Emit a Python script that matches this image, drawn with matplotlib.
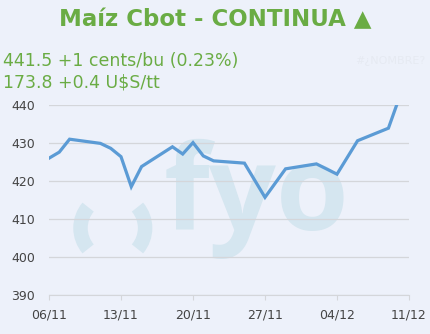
import matplotlib
matplotlib.use("Agg")
import matplotlib.pyplot as plt
from matplotlib.patches import Arc
import numpy as np

# data
dates = ["2019-11-06", "2019-11-07", "2019-11-08", "2019-11-11", "2019-11-12",
         "2019-11-13", "2019-11-14", "2019-11-15", "2019-11-18", "2019-11-19",
         "2019-11-20", "2019-11-21", "2019-11-22", "2019-11-25", "2019-11-27",
         "2019-11-29", "2019-12-02", "2019-12-04", "2019-12-06", "2019-12-09",
         "2019-12-10"]
prices = [426.0, 427.6, 431.0, 429.9, 428.6,
          426.4, 418.5, 423.8, 429.0, 427.1,
          430.1, 426.6, 425.3, 424.7, 415.7,
          423.2, 424.5, 421.8, 430.6, 433.9,
          441.5]
tick_dates = ["2019-11-06", "2019-11-13", "2019-11-20", "2019-11-27", "2019-12-04", "2019-12-11"]
tick_labels = ["06/11", "13/11", "20/11", "27/11", "04/12", "11/12"]
yticks = [390, 400, 410, 420, 430, 440]

title = "Maíz Cbot - CONTINUA ▲"
line1 = "441.5 +1 cents/bu (0.23%)"
line2 = "173.8 +0.4 U$S/tt"

bg = "#edf1fa"
green = "#6aac44"
wm = "#d5e6f0"
W, H = 431, 334

x = np.array(dates, dtype="datetime64[D]").astype("O")
xt = np.array(tick_dates, dtype="datetime64[D]").astype("O")

fig = plt.figure(figsize=(W/100, H/100), dpi=100)
fig.patch.set_facecolor(bg)
ax = fig.add_axes([49/W, 1-295/H, 360/W, 190/H])
ax.set_facecolor(bg)

# watermark logo, behind the grid
ax.text(164/W, 1-230/H, "fyo", fontsize=85, fontweight="bold", family="Open Sans",
        color=wm, ha="left", va="baseline", transform=fig.transFigure, zorder=1, clip_on=False)
for t1, t2 in [(132.5, 227.5), (-47.5, 47.5)]:
    ax.add_patch(Arc((112.8/W, 1-228/H), 64.6/W, 64.6/H, theta1=t1, theta2=t2,
                     lw=10.4, color=wm, capstyle="butt", transform=fig.transFigure,
                     zorder=1, clip_on=False))

ax.plot(x, prices, color="#5b9bd5", lw=2.3, solid_joinstyle="miter", zorder=3)

ax.set_ylim(390, 440)
ax.set_xlim(xt[0], xt[-1])
ax.set_yticks(yticks)
ax.set_xticks(xt)
ax.set_xticklabels(tick_labels)
ax.grid(axis="y", color="#d4d6da", lw=0.9)
for s in ["top", "right", "left"]:
    ax.spines[s].set_visible(False)
ax.spines["bottom"].set_color("#d4d6da")
ax.tick_params(axis="y", length=0, pad=10, labelsize=9, labelcolor="#444444")
ax.tick_params(axis="x", length=3.6, color="#d4d6da", pad=6, labelsize=9, labelcolor="#444444")

fig.text(215/W, 1-20/H, title, fontsize=16.5, fontweight="bold", color=green,
         ha="center", va="center")
fig.text(3/W, 1-61/H, line1, fontsize=12.5, color=green, ha="left", va="center")
fig.text(3/W, 1-82/H, line2, fontsize=12.5, color=green, ha="left", va="center")
fig.text(355/W, 1-61/H, "#¿NOMBRE?", fontsize=8, color="#e6eaf2", ha="left", va="center")

fig.savefig("out.png", dpi=100, facecolor=bg)
